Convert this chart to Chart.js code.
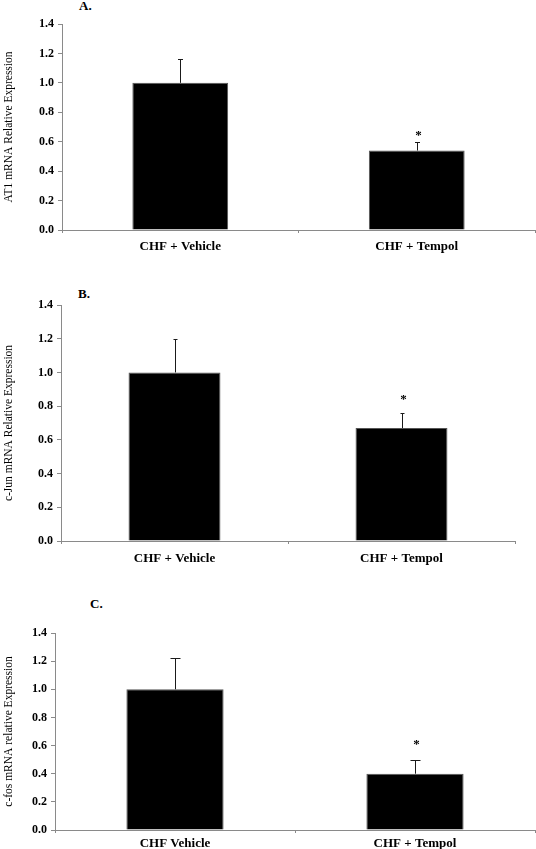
<!DOCTYPE html>
<html>
<head>
<meta charset="utf-8">
<script src="https://cdn.jsdelivr.net/npm/chart.js@4.4.0/dist/chart.umd.min.js"></script>
<style>
  body { margin: 0; background: #fff; }
  #page { position: relative; width: 536px; height: 849px; overflow: hidden; }
  canvas { position: absolute; left: 0; }
  .tag { position: absolute; font: bold 13px "Liberation Serif", serif; color: #000; line-height: 13px; }
</style>
</head>
<body>
<div id="page">
  <div class="tag" style="left:79px; top:-1px">A.</div>
  <div class="tag" style="left:78px; top:287px">B.</div>
  <div class="tag" style="left:90px; top:597px">C.</div>
  <canvas id="chartA" width="536" height="265" style="top:0px"></canvas>
  <canvas id="chartB" width="536" height="290" style="top:280px"></canvas>
  <canvas id="chartC" width="536" height="279" style="top:570px"></canvas>
</div>
<script>
// categories
const groupsAB = ["CHF + Vehicle", "CHF + Tempol"];
const groupsC = ["CHF Vehicle", "CHF + Tempol"];

// means and error (upper half only)
const at1Mean = [1.0, 0.54];
const at1Err = [0.16, 0.06];
const cjunMean = [1.0, 0.67];
const cjunErr = [0.20, 0.09];
const cfosMean = [1.0, 0.40];
const cfosErr = [0.22, 0.10];

// significance marks
const sigMarks = ["", "*"];

// y axis ticks
const yMin = 0;
const yMax = 1.4;
const yStep = 0.2;

const serif = "'Liberation Serif', 'Times New Roman', serif";
const axisGray = "#8a8a8a";

// draws the error bars and the asterisks above them
const errorBarPlugin = {
  id: "errorBars",
  afterDatasetsDraw(chart, args, opts) {
    const ctx = chart.ctx;
    const ds = chart.data.datasets[0];
    const meta = chart.getDatasetMeta(0);
    const y = chart.scales.y;
    ctx.save();
    ctx.strokeStyle = "#1a1a1a";
    ctx.lineWidth = 1;
    meta.data.forEach(function (bar, i) {
      const x = Math.round(bar.x) + 0.5;
      const yBar = y.getPixelForValue(ds.data[i]);
      const yTop = Math.round(y.getPixelForValue(ds.data[i] + ds.err[i])) + 0.5;
      ctx.beginPath();
      ctx.moveTo(x, yBar);
      ctx.lineTo(x, yTop);
      ctx.moveTo(x - opts.cap / 2, yTop);
      ctx.lineTo(x + opts.cap / 2, yTop);
      ctx.stroke();
      if (ds.marks[i]) {
        ctx.fillStyle = "#000";
        ctx.font = "bold 13px " + serif;
        ctx.textAlign = "center";
        ctx.textBaseline = "middle";
        ctx.fillText(ds.marks[i], x + 1, yTop - opts.gap);
      }
    });
    ctx.restore();
  }
};

function makePanel(id, labels, means, errs, yTitle, box) {
  const el = document.getElementById(id);
  if (!el) return;
  new Chart(el, {
    type: "bar",
    data: {
      labels: labels,
      datasets: [{
        data: means,
        err: errs,
        marks: sigMarks,
        backgroundColor: "#000",
        borderColor: "#555",
        borderWidth: 1,
        categoryPercentage: 1,
        barPercentage: 0.405
      }]
    },
    options: {
      responsive: false,
      animation: false,
      layout: { padding: { top: box.top, right: box.right, left: 0, bottom: 0 } },
      plugins: {
        legend: { display: false },
        tooltip: { enabled: false },
        errorBars: { cap: box.cap, gap: box.gap }
      },
      scales: {
        x: {
          offset: true,
          grid: { drawOnChartArea: false, tickLength: 3, color: axisGray, offset: true },
          border: { color: axisGray },
          ticks: { color: "#000", font: { family: serif, size: 13, weight: "bold" }, padding: box.xPad, maxRotation: 0 },
          afterFit: function (scale) { scale.height = box.xHeight; }
        },
        y: {
          min: yMin,
          max: yMax,
          grid: { drawOnChartArea: false, tickLength: 4, color: axisGray },
          border: { color: axisGray },
          ticks: {
            stepSize: yStep,
            color: "#000",
            font: { family: serif, size: 12, weight: "bold" },
            padding: 4,
            callback: function (v) { return v.toFixed(1); }
          },
          title: {
            display: true,
            text: yTitle,
            color: "#000",
            font: { family: serif, size: 11.5 },
            padding: { top: 2, bottom: 0 }
          },
          afterFit: function (scale) { scale.width = box.left; }
        }
      }
    },
    plugins: [errorBarPlugin]
  });
}

makePanel("chartA", groupsAB, at1Mean, at1Err, "AT1 mRNA Relative Expression",
  { top: 24, right: 1, left: 62, xHeight: 35, xPad: 6, cap: 5, gap: 7 });
makePanel("chartB", groupsAB, cjunMean, cjunErr, "c-Jun mRNA Relative Expression",
  { top: 25, right: 21, left: 61, xHeight: 29, xPad: 7, cap: 4, gap: 14 });
makePanel("chartC", groupsC, cfosMean, cfosErr, "c-fos mRNA relative Expression",
  { top: 63, right: 1, left: 55, xHeight: 19, xPad: 3, cap: 10, gap: 16 });
</script>
</body>
</html>
